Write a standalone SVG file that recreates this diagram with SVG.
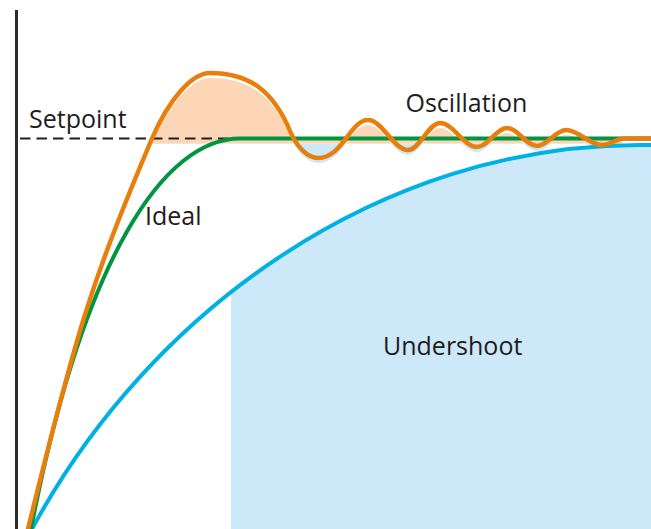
<svg xmlns="http://www.w3.org/2000/svg" xmlns:xlink="http://www.w3.org/1999/xlink" width="651" height="529" viewBox="0 0 651 529">
<style>
.lbl{font-family:"Open Sans","Liberation Sans",sans-serif;font-size:25px;fill:#1f1c1d}
.curve{fill:none;stroke-linecap:round;stroke-linejoin:round}
</style>
<defs>
<path id="oscFill" d="M152,138.5 C169,99 192,73 210,73 C249,73 273,90.4 290,131 C296.75,147.2 308,158 318,158 C343,158 350,120 368,120 C382.4,120 393.6,150 408,150 C419.5,150 428.5,123 440,123 C453.3,123 463.7,147 477,147 C487.8,147 496.2,128 507,128 C517.8,128 526.2,146 537,146 C547.4,146 555.6,130 566,130 C579,130 589,145 602,145 C612,145 615,138.5 625,138.5 Z"/>
<clipPath id="above"><rect x="0" y="0" width="651" height="143.5"/></clipPath>
<clipPath id="below"><rect x="0" y="143.5" width="651" height="386"/></clipPath>
<clipPath id="rightPart"><rect x="231" y="0" width="420" height="529"/></clipPath>
</defs>
<rect width="651" height="529" fill="#ffffff"/>
<g id="undershoot-area" clip-path="url(#rightPart)">
<path d="M32,529 C150,310 380,145 640,145 L651,145 L651,529 Z" fill="#cce8f9"/>
</g>
<g id="oscillation-area">
<rect x="152" y="138.5" width="470" height="5" fill="#fdd6b7"/>
<g clip-path="url(#above)"><use xlink:href="#oscFill" transform="translate(0,5)" fill="#fdd6b7"/></g>
<g clip-path="url(#below)"><use xlink:href="#oscFill" transform="translate(0,5)" fill="#cce8f9"/></g>
</g>
<g id="axis"><line x1="16.5" y1="10" x2="16.5" y2="529" stroke="#2b2b2b" stroke-width="3"/></g>
<g id="connectors">
<line id="setpoint-line" x1="20" y1="138.5" x2="232" y2="138.5" stroke="#231f20" stroke-width="2.2" stroke-dasharray="10.5 6"/>
<path id="undershoot-curve" class="curve" d="M32,529 C150,310 380,145 640,145 L651,145" stroke="#00b2e3" stroke-width="4"/>
<path id="ideal-curve" class="curve" d="M31,529 C84,255 165,138.5 240,138.5 L651,138.5" stroke="#009640" stroke-width="4"/>
<path id="oscillation-curve" class="curve" d="M28,529 C78,325 92,281 152,138.5 C169,99 192,73 210,73 C249,73 273,90.4 290,131 C296.75,147.2 308,158 318,158 C343,158 350,120 368,120 C382.4,120 393.6,150 408,150 C419.5,150 428.5,123 440,123 C453.3,123 463.7,147 477,147 C487.8,147 496.2,128 507,128 C517.8,128 526.2,146 537,146 C547.4,146 555.6,130 566,130 C579,130 589,145 602,145 C612,145 615,138.5 625,138.5 L651,138.5" stroke="#e87e0c" stroke-width="4.5"/>
</g>
<g id="label-setpoint"><text class="lbl" x="29" y="128">Setpoint</text></g>
<g id="label-ideal"><text class="lbl" x="145" y="225">Ideal</text></g>
<g id="label-oscillation"><text class="lbl" x="405.5" y="112">Oscillation</text></g>
<g id="label-undershoot"><text class="lbl" x="383" y="355">Undershoot</text></g>
</svg>
